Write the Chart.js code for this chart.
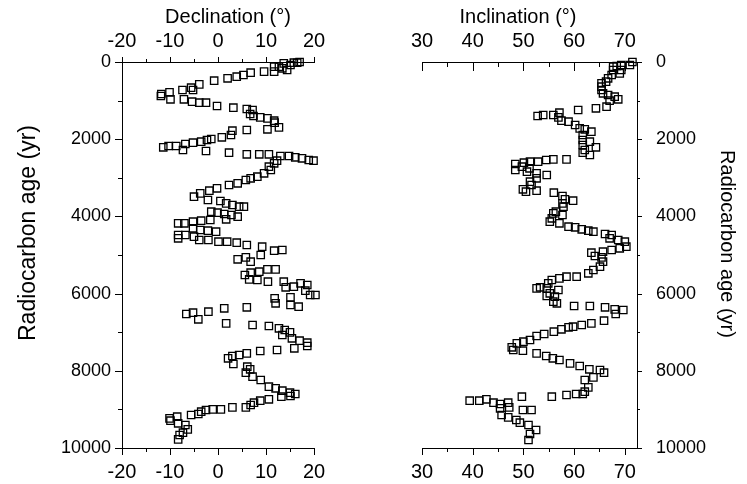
<!DOCTYPE html>
<html>
<head>
<meta charset="utf-8">
<script src="https://cdn.jsdelivr.net/npm/chart.js@4.4.1/dist/chart.umd.min.js"></script>
<style>
  html, body { margin: 0; padding: 0; background: #fff; }
  #wrap { position: relative; width: 747px; height: 484px; }
  .panel { position: absolute; top: 0; height: 484px; }
  #decPanel { left: 0; width: 340px; }
  #incPanel { left: 390px; width: 357px; }
</style>
</head>
<body>
<div id="wrap">
  <div class="panel" id="decPanel"><canvas id="decChart"></canvas></div>
  <div class="panel" id="incPanel"><canvas id="incChart"></canvas></div>
</div>
<script>
// Declination record: radiocarbon age (yr) and declination (deg)
const decAge = [
  0, 20, 17, 78, 35, 121, 121, 164, 207, 250, 250, 276, 337, 380, 423, 484, 579, 665, 725, 725,
  786, 829, 881, 967, 967, 1028, 1054, 1054, 1140, 1183, 1218, 1244, 1347, 1399, 1434, 1460, 1520, 1572, 1693, 1744,
  1762, 1779, 1891, 1952, 1995, 2021, 2064, 2090, 2124, 2176, 2176, 2211, 2280, 2306, 2349, 2392, 2392, 2392, 2435, 2435,
  2470, 2496, 2539, 2556, 2556, 2625, 2712, 2798, 2884, 2971, 3014, 3057, 3143, 3187, 3273, 3333, 3403, 3489, 3575, 3601,
  3662, 3705, 3748, 3748, 3878, 3903, 3938, 3964, 4007, 4076, 4093, 4111, 4137, 4180, 4180, 4309, 4352, 4370, 4396, 4482,
  4482, 4525, 4568, 4612, 4612, 4655, 4655, 4681, 4741, 4784, 4888, 4871, 5000, 5061, 5112, 5173, 5372, 5372, 5432, 5458,
  5518, 5631, 5648, 5691, 5691, 5838, 5821, 5734, 5777, 5924, 6037, 6037, 6123, 6097, 6252, 6296, 6339, 6382, 6356, 6529,
  6494, 6667, 6468, 6771, 6814, 6840, 6900, 6943, 7004, 7073, 7159, 7220, 7271, 7358, 7418, 7461, 7487, 7548, 7591, 7617,
  7677, 7824, 7893, 7962, 8049, 8152, 8239, 8411, 8454, 8515, 8567, 8601, 8653, 8670, 8739, 8774, 8826, 8886, 8947, 8947,
  8999, 8999, 9016, 9059, 9119, 9145, 9189, 9232, 9292, 9361, 9404, 9517, 9603, 9664, 9776
];
const decValue = [
  17.0, 16.5, 15.8, 15.1, 13.7, 12.7, 11.7, 13.4, 14.4, 11.7, 9.6, 6.8, 5.3, 3.9, 2.0, -0.8, -3.9, -5.6, -5.2, -7.4,
  -10.1, -11.8, -11.9, -9.9, -7.1, -5.4, -3.9, -2.5, -0.2, 3.2, 6.0, 7.2, 6.7, 7.4, 8.8, 10.3, 11.7, 11.8, 12.7, 10.3,
  6.0, 3.0, 2.7, 0.8, -1.4, -2.3, -3.5, -5.2, -6.8, -8.7, -10.3, -11.4, -7.3, -2.5, 2.3, 6.0, 8.6, 10.6, 13.0, 14.8,
  16.1, 17.5, 18.9, 19.9, 12.3, 11.7, 10.6, 11.0, 9.6, 8.2, 6.8, 5.8, 4.1, 2.3, -0.2, -1.8, -3.7, -5.0, -2.1, 0.5,
  1.7, 3.0, 4.4, 5.4, -1.4, -0.1, 1.3, 2.8, 4.1, 1.7, -1.6, -3.5, -5.2, -7.0, -8.3, -5.2, -3.7, -2.1, -0.4, -8.3,
  -6.8, -5.0, -8.3, -3.9, -2.0, 0.1, 1.9, 3.9, 6.0, 9.2, 11.7, 13.4, 8.9, 5.8, 4.1, 6.8, 10.3, 12.0, 8.6, 6.8,
  5.6, 6.5, 8.2, 10.4, 13.7, 14.1, 15.8, 17.2, 18.6, 18.2, 19.2, 20.3, 11.8, 15.1, 12.0, 15.1, 16.8, 1.3, 6.0, -6.6,
  -5.2, -4.1, -2.0, 1.7, 7.2, 10.6, 12.7, 13.9, 15.0, 13.4, 15.4, 17.0, 18.6, 18.6, 15.9, 12.3, 8.8, 6.0, 4.4, 3.0,
  2.1, 3.2, 6.1, 6.7, 5.8, 7.2, 8.9, 10.6, 12.0, 13.4, 15.0, 16.1, 15.1, 13.2, 10.6, 8.8, 7.5, 6.8, 5.8, 3.0,
  0.6, -1.1, -2.5, -3.5, -4.1, -5.6, -8.5, -10.1, -9.9, -8.3, -6.8, -6.3, -7.3, -8.0, -8.3
];

// Inclination record: radiocarbon age (yr) and inclination (deg)
const incAge = [
  0, 78, 78, 104, 121, 207, 294, 207, 337, 423, 510, 553, 639, 725, 812, 855, 898, 967, 1002, 1157,
  1200, 1244, 1313, 1373, 1373, 1399, 1434, 1520, 1546, 1632, 1719, 1744, 1805, 1891, 2021, 2064, 2150, 2211, 2280, 2349,
  2409, 2522, 2522, 2539, 2582, 2582, 2608, 2643, 2712, 2755, 2798, 2841, 2884, 2928, 3014, 3100, 3187, 3299, 3359, 3333,
  3385, 3472, 3558, 3593, 3662, 3748, 3878, 3921, 3964, 4050, 4137, 4180, 4266, 4283, 4335, 4370, 4396, 4456, 4482, 4568,
  4612, 4655, 4784, 4827, 4871, 4914, 4940, 5026, 5061, 5173, 5302, 5389, 5475, 5562, 5562, 5605, 5648, 5734, 5838, 5864,
  5864, 5907, 5993, 6062, 6080, 6209, 6252, 6322, 6322, 6356, 6408, 6425, 6529, 6701, 6771, 6814, 6857, 6874, 6926, 6986,
  7047, 7099, 7202, 7246, 7289, 7392, 7461, 7479, 7548, 7617, 7677, 7720, 7807, 7876, 7962, 7980, 8049, 8170, 8239, 8429,
  8541, 8601, 8601, 8627, 8670, 8670, 8739, 8774, 8774, 8826, 8860, 8826, 8947, 8973, 9016, 9016, 9145, 9206, 9275, 9344,
  9404, 9534, 9638, 9793
];
const incValue = [
  71.5, 71.0, 69.3, 68.4, 67.7, 69.3, 69.0, 67.7, 67.4, 66.7, 66.3, 65.4, 65.4, 65.4, 65.7, 66.7, 68.0, 68.7, 67.0, 66.4,
  64.3, 60.8, 57.1, 55.9, 53.9, 52.8, 56.9, 57.5, 58.9, 60.2, 61.1, 62.1, 63.4, 61.7, 61.7, 63.1, 61.7, 64.3, 62.1, 61.7,
  63.1, 58.5, 55.9, 54.5, 52.9, 51.3, 50.1, 48.4, 49.7, 51.2, 48.4, 50.7, 52.6, 54.6, 52.6, 51.3, 51.6, 49.9, 50.5, 52.6,
  56.0, 57.7, 58.2, 59.8, 57.7, 57.9, 56.4, 55.9, 57.7, 55.6, 55.2, 57.1, 58.9, 60.2, 61.5, 62.8, 63.8, 66.1, 67.4, 67.0,
  68.7, 70.0, 70.3, 69.0, 67.4, 65.7, 63.4, 64.1, 65.4, 65.7, 65.1, 63.8, 62.8, 60.5, 58.5, 57.1, 55.6, 54.9, 53.3, 52.6,
  54.6, 56.9, 55.2, 54.6, 56.2, 55.9, 56.6, 60.0, 63.1, 66.1, 68.0, 69.7, 68.2, 65.9, 63.4, 61.5, 59.8, 58.9, 57.5, 56.0,
  54.1, 52.6, 51.3, 50.0, 48.7, 47.7, 48.0, 49.9, 52.6, 54.5, 55.8, 57.1, 59.2, 61.1, 63.0, 65.1, 65.9, 63.8, 62.1, 62.8,
  62.1, 61.7, 60.4, 58.5, 55.6, 49.7, 42.7, 41.3, 39.4, 44.1, 45.4, 47.0, 47.2, 45.4, 49.9, 51.6, 45.7, 47.0, 48.6, 49.3,
  51.0, 52.5, 51.3, 51.0
];

const decTicks = [-20, -10, 0, 10, 20];
const incTicks = [30, 40, 50, 60, 70];
const ageTicks = [0, 2000, 4000, 6000, 8000, 10000];

const FONT = '"Liberation Sans", Arial, Helvetica, sans-serif';
Chart.defaults.font.family = FONT;
Chart.defaults.color = '#000';

function toPoints(ages, values) {
  return ages.map((a, i) => ({ x: values[i], y: a }));
}

// linear axis with fixed tick list and fixed box size
function axis(position, min, max, tickValues, size, fontSize, padding, extra) {
  return Object.assign({
    type: 'linear',
    position: position,
    min: min,
    max: max,
    afterBuildTicks: s => { s.ticks = tickValues.map(v => ({ value: v })); },
    afterFit: s => {
      if (s.isHorizontal()) s.height = size;
      else s.width = size;
    },
    ticks: {
      font: { size: fontSize },
      color: '#000',
      padding: padding,
      maxRotation: 0,
      autoSkip: false,
      callback: v => String(v)
    },
    grid: { display: false, drawTicks: false },
    border: { display: true, color: '#000', width: 1 }
  }, extra || {});
}

// major + minor tick marks, drawn outward (dir 1) or inward (dir -1)
const tickMarks = {
  id: 'tickMarks',
  afterDraw(chart, args, opts) {
    const ctx = chart.ctx;
    const a = chart.chartArea;
    ctx.save();
    ctx.strokeStyle = '#000';
    ctx.lineWidth = 1;
    ctx.beginPath();
    (opts.axes || []).forEach(cfg => {
      const s = chart.scales[cfg.id];
      const vals = s.ticks.map(t => t.value);
      const minor = vals.slice(1).map((v, i) => (v + vals[i]) / 2);
      const pos = s.options.position;
      const mark = (v, len) => {
        const p = Math.round(s.getPixelForValue(v)) + 0.5;
        const l = len * cfg.dir;
        if (pos === 'top') { ctx.moveTo(p, Math.round(a.top)); ctx.lineTo(p, Math.round(a.top) - l); }
        else if (pos === 'bottom') { ctx.moveTo(p, Math.round(a.bottom)); ctx.lineTo(p, Math.round(a.bottom) + l); }
        else if (pos === 'left') { ctx.moveTo(Math.round(a.left), p); ctx.lineTo(Math.round(a.left) - l, p); }
        else { ctx.moveTo(Math.round(a.right), p); ctx.lineTo(Math.round(a.right) + l, p); }
      };
      vals.forEach(v => mark(v, cfg.major));
      minor.forEach(v => mark(v, cfg.minor));
    });
    ctx.stroke();
    ctx.restore();
  }
};

// axis titles placed where the original figure has them
const panelTitles = {
  id: 'panelTitles',
  afterDraw(chart, args, opts) {
    const ctx = chart.ctx;
    (opts.items || []).forEach(t => {
      ctx.save();
      ctx.fillStyle = '#000';
      ctx.textAlign = 'center';
      ctx.textBaseline = 'middle';
      ctx.font = t.size + 'px ' + FONT;
      ctx.translate(t.x, t.y);
      ctx.rotate((t.rotate || 0) * Math.PI / 180);
      ctx.fillText(t.text, 0, 0);
      ctx.restore();
    });
  }
};

const markerStyle = {
  pointStyle: 'rect',
  pointRadius: 5.2,
  pointHoverRadius: 5.2,
  borderColor: '#000',
  borderWidth: 1.3,
  backgroundColor: 'rgba(0,0,0,0)',
  clip: false
};

new Chart(document.getElementById('decChart'), {
  type: 'scatter',
  data: {
    datasets: [Object.assign({
      label: 'Declination',
      data: toPoints(decAge, decValue),
      xAxisID: 'x',
      yAxisID: 'y'
    }, markerStyle)]
  },
  options: {
    responsive: true,
    maintainAspectRatio: false,
    animation: false,
    devicePixelRatio: 1,
    layout: { padding: { left: 0, right: 26, top: 0, bottom: 0 } },
    scales: {
      x: axis('bottom', -20, 20, decTicks, 36, 20, 12),
      xTop: axis('top', -20, 20, decTicks, 62, 20, 9),
      y: axis('left', 0, 10000, ageTicks, 122, 18, 11, { reverse: true })
    },
    plugins: {
      legend: { display: false },
      tooltip: { enabled: false },
      tickMarks: { axes: [
        { id: 'x', major: 7, minor: 4, dir: 1 },
        { id: 'xTop', major: 5, minor: 3, dir: 1 },
        { id: 'y', major: 7, minor: 4, dir: 1 }
      ] },
      panelTitles: { items: [
        { text: 'Declination (°)', x: 228, y: 17, size: 20 },
        { text: 'Radiocarbon age (yr)', x: 29, y: 233, size: 23, rotate: -90 }
      ] }
    }
  },
  plugins: [tickMarks, panelTitles]
});

new Chart(document.getElementById('incChart'), {
  type: 'scatter',
  data: {
    datasets: [Object.assign({
      label: 'Inclination',
      data: toPoints(incAge, incValue),
      xAxisID: 'x',
      yAxisID: 'y'
    }, markerStyle)]
  },
  options: {
    responsive: true,
    maintainAspectRatio: false,
    animation: false,
    devicePixelRatio: 1,
    layout: { padding: { left: 32, right: 0, top: 0, bottom: 0 } },
    scales: {
      x: axis('bottom', 30, 72.4, incTicks, 36, 20, 12),
      xTop: axis('top', 30, 72.4, incTicks, 62, 20, 9),
      y: axis('right', 0, 10000, ageTicks, 110, 18, 19, { reverse: true })
    },
    plugins: {
      legend: { display: false },
      tooltip: { enabled: false },
      tickMarks: { axes: [
        { id: 'x', major: 7, minor: 4, dir: 1 },
        { id: 'xTop', major: 9, minor: 5, dir: -1 },
        { id: 'y', major: 5, minor: 3, dir: 1 }
      ] },
      panelTitles: { items: [
        { text: 'Inclination (°)', x: 128, y: 17, size: 20 },
        { text: 'Radiocarbon age (yr)', x: 337, y: 244, size: 20, rotate: 90 }
      ] }
    }
  },
  plugins: [tickMarks, panelTitles]
});
</script>
</body>
</html>
